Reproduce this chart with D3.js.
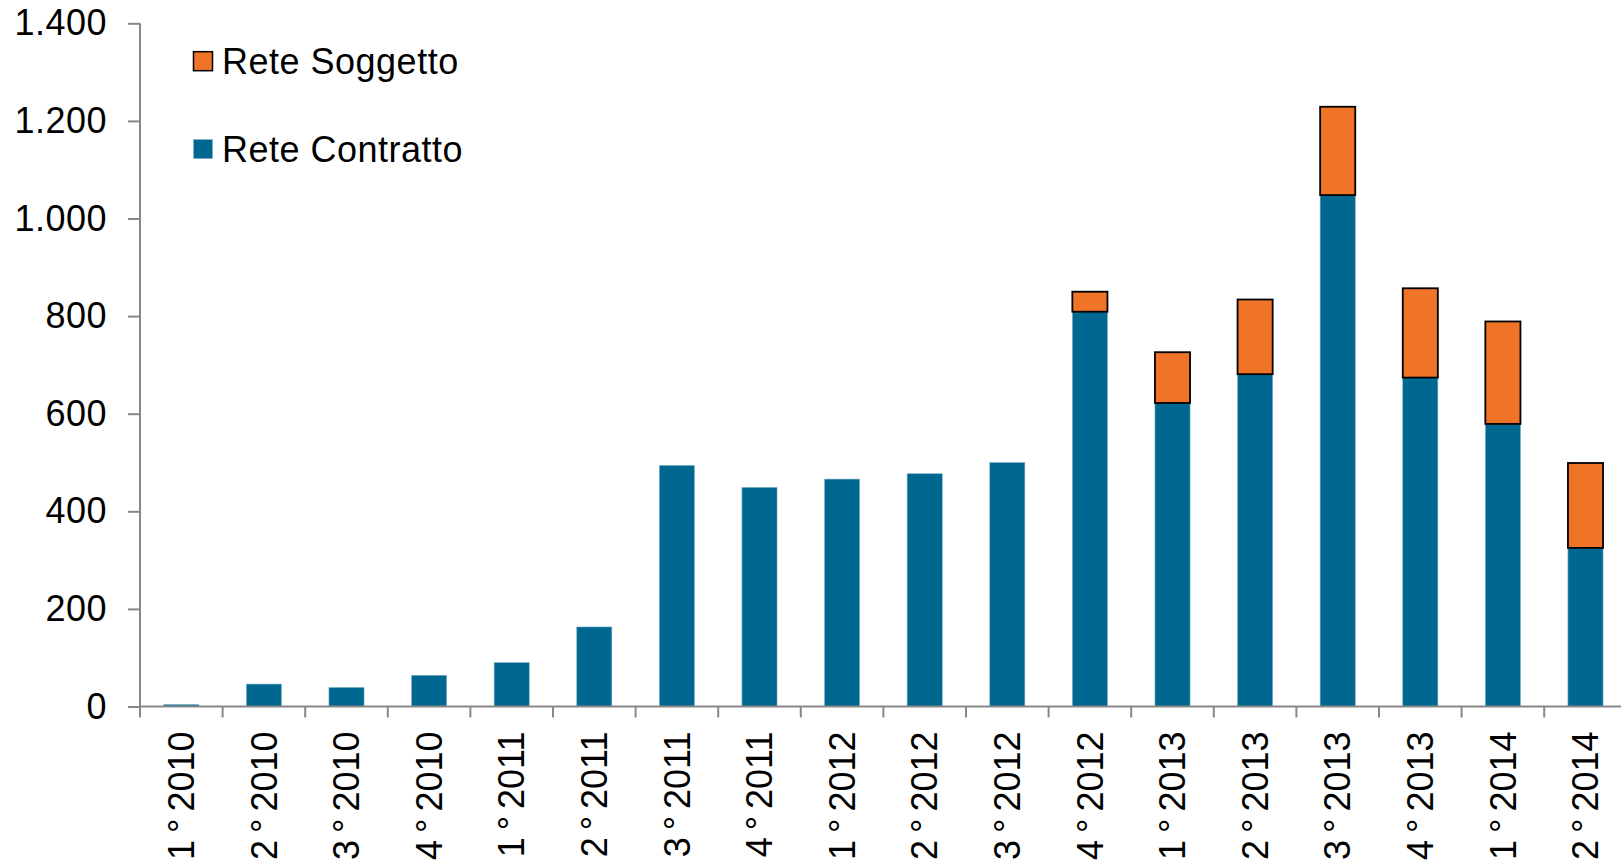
<!DOCTYPE html>
<html>
<head>
<meta charset="utf-8">
<script src="https://cdn.jsdelivr.net/npm/d3@7"></script>
<style>
  html, body { margin: 0; padding: 0; background: #fff; overflow: hidden; }
  svg { display: block; font-family: "Liberation Sans", Arial, sans-serif; }
</style>
</head>
<body>
<svg id="chart" width="1621" height="861"></svg>
<script>
const categories = ["1°2010","2°2010","3°2010","4°2010","1°2011","2°2011","3°2011","4°2011",
  "1°2012","2°2012","3°2012","4°2012","1°2013","2°2013","3°2013","4°2013","1°2014","2°2014"];
const reteContratto = [4, 46, 39, 64, 90, 163, 494, 449, 466, 477, 500, 809, 622, 681, 1048, 674, 579, 325];
const reteSoggetto  = [0, 0, 0, 0, 0, 0, 0, 0, 0, 0, 0, 41, 104, 153, 181, 183, 210, 174];
const yTicks = [0, 200, 400, 600, 800, 1000, 1200, 1400];
const seriesNames = ["Rete Soggetto", "Rete Contratto"];
const colors = { contratto: "#006890", soggetto: "#F07427" };

const svg = d3.select("#chart");
const x0 = 140, yZero = 706.5, yTop = 23.3, step = 82.6;

const x = d3.scaleBand().domain(categories)
  .range([x0, x0 + step * categories.length])
  .paddingInner(0.575).paddingOuter(0.2875);
const y = d3.scaleLinear().domain([0, 1400]).range([yZero, yTop]);

const fmt = v => d3.format(",")(v).replace(/,/g, ".");

// Y axis
const yAxis = svg.append("g").attr("transform", `translate(${x0},0)`)
  .call(d3.axisLeft(y).tickValues(yTicks).tickFormat(fmt).tickSize(12).tickPadding(21));
yAxis.select(".domain").attr("stroke", "#888").attr("stroke-width", 2).attr("d", `M0,${yTop}V${yZero}`);
yAxis.selectAll(".tick line").attr("stroke", "#888").attr("stroke-width", 2);
yAxis.selectAll(".tick text").attr("font-size", 36).attr("fill", "#000")
  .attr("letter-spacing", "0.5px")
  .attr("font-family", "'Liberation Sans', Arial, sans-serif");

// Bars: Rete Contratto
svg.append("g").selectAll("rect").data(categories).join("rect")
  .attr("x", d => x(d))
  .attr("width", x.bandwidth())
  .attr("y", (d, i) => y(reteContratto[i]))
  .attr("height", (d, i) => yZero - y(reteContratto[i]))
  .attr("fill", colors.contratto)
  .attr("stroke", "#7fb2c8").attr("stroke-width", 0.6);

// Bars: Rete Soggetto (stacked)
svg.append("g").selectAll("rect").data(categories.filter((d, i) => reteSoggetto[i] > 0)).join("rect")
  .attr("x", d => x(d))
  .attr("width", x.bandwidth())
  .attr("y", d => { const i = categories.indexOf(d); return y(reteContratto[i] + reteSoggetto[i]); })
  .attr("height", d => { const i = categories.indexOf(d); return y(reteContratto[i]) - y(reteContratto[i] + reteSoggetto[i]); })
  .attr("fill", colors.soggetto)
  .attr("stroke", "#000").attr("stroke-width", 1.8);

// X axis
const xAxis = svg.append("g").attr("transform", `translate(0,${yZero})`)
  .call(d3.axisBottom(x).tickSize(0).tickPadding(0));
xAxis.select(".domain").attr("stroke", "#888").attr("stroke-width", 2)
  .attr("d", `M${x0},0H1621`);
xAxis.selectAll(".tick text")
  .attr("font-size", 36).attr("fill", "#000")
  .attr("font-family", "'Liberation Sans', Arial, sans-serif")
  .attr("text-anchor", "end")
  .attr("transform", "rotate(-90)")
  .attr("x", -25).attr("y", 0).attr("dy", "0.35em")
  .each(function(d) {
    const parts = d.split("°");
    const t = d3.select(this).text(null);
    t.append("tspan").text(parts[0]);
    t.append("tspan").attr("dx", 7).text("°");
    t.append("tspan").attr("dx", 7).text(parts[1]);
  });
// band boundary ticks
svg.append("g").selectAll("line").data(categories).join("line")
  .attr("x1", d => x(d) - x.step() * x.paddingInner() / 2)
  .attr("x2", d => x(d) - x.step() * x.paddingInner() / 2)
  .attr("y1", yZero).attr("y2", yZero + 11)
  .attr("stroke", "#888").attr("stroke-width", 2);

// Legend
const legend = svg.append("g");
const legendItems = [
  { name: seriesNames[0], color: colors.soggetto, stroke: "#000", y: 51.7 },
  { name: seriesNames[1], color: colors.contratto, stroke: "#7fb2c8", y: 139.6 }
];
legendItems.forEach(it => {
  legend.append("rect").attr("x", 193.5).attr("y", it.y).attr("width", 19).attr("height", 19)
    .attr("fill", it.color).attr("stroke", it.stroke).attr("stroke-width", it.stroke === "#000" ? 1.5 : 0.6);
  legend.append("text").attr("x", 222).attr("y", it.y + 22.5)
    .attr("font-size", 36).attr("letter-spacing", "0.5px").attr("fill", "#000").text(it.name);
});
</script>
</body>
</html>
